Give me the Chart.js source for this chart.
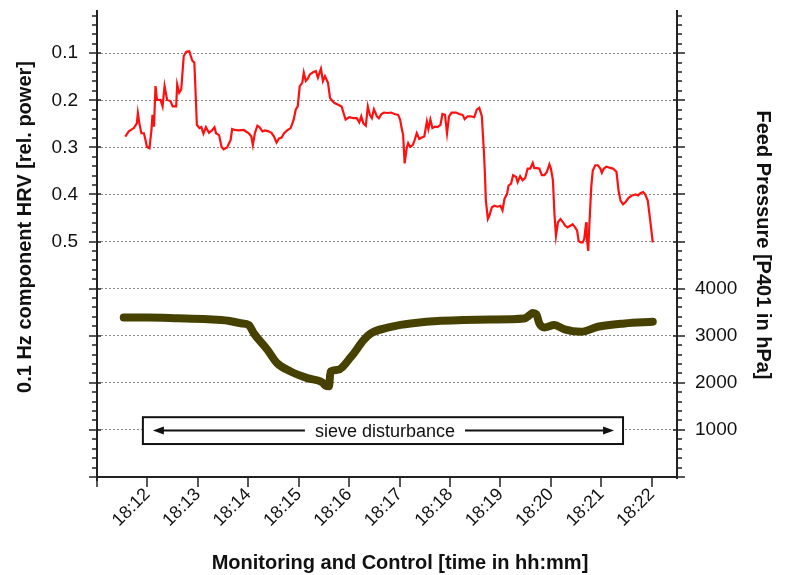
<!DOCTYPE html>
<html>
<head>
<meta charset="utf-8">
<title>HRV and feed pressure</title>
<script src="https://cdn.jsdelivr.net/npm/chart.js@4.4.1/dist/chart.umd.min.js"></script>
<style>
    html, body { margin: 0; padding: 0; background: #ffffff; }
</style>
</head>
<body>
<canvas id="myChart" width="785" height="575"></canvas>
<script>
// 0.1 Hz HRV component (rel. power), time in minutes after 18:00
const hrvTime = [
    11.56, 11.63, 11.73, 11.79, 11.81, 11.84, 11.88, 11.93, 11.96, 11.99,
    12.04, 12.08, 12.10, 12.13, 12.16, 12.19, 12.26, 12.30, 12.34, 12.39,
    12.46, 12.50, 12.57, 12.59, 12.63, 12.67, 12.72, 12.77, 12.83, 12.89,
    12.93, 12.95, 12.98, 13.03, 13.07, 13.11, 13.16, 13.22, 13.28, 13.33,
    13.36, 13.42, 13.47, 13.51, 13.58, 13.65, 13.68, 13.73, 13.81, 13.91,
    14.01, 14.06, 14.09, 14.13, 14.18, 14.22, 14.28, 14.33, 14.40, 14.46,
    14.51, 14.56, 14.61, 14.66, 14.71, 14.77, 14.84, 14.90, 14.94, 14.98,
    15.02, 15.07, 15.10, 15.14, 15.18, 15.22, 15.29, 15.34, 15.38, 15.44,
    15.48, 15.52, 15.58, 15.62, 15.67, 15.71, 15.77, 15.85, 15.90, 15.93,
    16.00, 16.08, 16.15, 16.20, 16.24, 16.28, 16.33, 16.37, 16.41, 16.45,
    16.49, 16.55, 16.59, 16.64, 16.69, 16.76, 16.83, 16.90, 16.97, 17.01,
    17.04, 17.07, 17.10, 17.14, 17.17, 17.21, 17.26, 17.30, 17.34, 17.39,
    17.44, 17.49, 17.54, 17.57, 17.61, 17.65, 17.70, 17.75, 17.81, 17.85,
    17.90, 17.94, 17.98, 18.03, 18.12, 18.18, 18.25, 18.29, 18.35, 18.41,
    18.48, 18.53, 18.58, 18.63, 18.67, 18.69, 18.71, 18.75, 18.78, 18.83,
    18.88, 18.94, 19.00, 19.04, 19.08, 19.13, 19.16, 19.21, 19.25, 19.31,
    19.34, 19.39, 19.44, 19.49, 19.54, 19.59, 19.64, 19.67, 19.72, 19.77,
    19.82, 19.87, 19.92, 19.97, 20.00, 20.04, 20.07, 20.10, 20.14, 20.19,
    20.24, 20.28, 20.33, 20.39, 20.43, 20.48, 20.52, 20.55, 20.59, 20.63,
    20.66, 20.70, 20.71, 20.74, 20.76, 20.80, 20.83, 20.88, 20.93, 20.98,
    21.01, 21.05, 21.10, 21.16, 21.23, 21.30, 21.34, 21.38, 21.43, 21.48,
    21.54, 21.61, 21.68, 21.73, 21.78, 21.83, 21.87, 21.92, 21.97, 22.02
];
const hrvPower = [
    0.277, 0.266, 0.259, 0.249, 0.227, 0.249, 0.270, 0.270, 0.284, 0.299,
    0.302, 0.263, 0.231, 0.256, 0.170, 0.199, 0.199, 0.213, 0.170, 0.199,
    0.202, 0.213, 0.213, 0.166, 0.184, 0.177, 0.106, 0.097, 0.096, 0.116,
    0.120, 0.170, 0.252, 0.259, 0.257, 0.271, 0.257, 0.269, 0.264, 0.257,
    0.270, 0.274, 0.299, 0.304, 0.300, 0.284, 0.261, 0.263, 0.264, 0.263,
    0.270, 0.277, 0.295, 0.270, 0.254, 0.257, 0.266, 0.264, 0.266, 0.269,
    0.277, 0.290, 0.281, 0.279, 0.270, 0.264, 0.259, 0.241, 0.220, 0.213,
    0.170, 0.163, 0.141, 0.159, 0.154, 0.145, 0.140, 0.138, 0.152, 0.133,
    0.159, 0.149, 0.163, 0.195, 0.202, 0.206, 0.209, 0.213, 0.231, 0.241,
    0.236, 0.238, 0.238, 0.247, 0.234, 0.249, 0.254, 0.213, 0.231, 0.238,
    0.219, 0.234, 0.238, 0.229, 0.226, 0.227, 0.226, 0.229, 0.231, 0.241,
    0.259, 0.274, 0.334, 0.302, 0.291, 0.299, 0.295, 0.284, 0.270, 0.282,
    0.279, 0.277, 0.245, 0.261, 0.241, 0.259, 0.256, 0.257, 0.252, 0.229,
    0.231, 0.270, 0.234, 0.226, 0.226, 0.229, 0.231, 0.240, 0.234, 0.234,
    0.236, 0.220, 0.216, 0.234, 0.306, 0.352, 0.413, 0.452, 0.445, 0.427,
    0.424, 0.426, 0.424, 0.434, 0.409, 0.399, 0.381, 0.377, 0.359, 0.363,
    0.374, 0.361, 0.370, 0.365, 0.345, 0.345, 0.333, 0.344, 0.344, 0.345,
    0.359, 0.359, 0.352, 0.336, 0.345, 0.370, 0.441, 0.488, 0.459, 0.452,
    0.459, 0.466, 0.470, 0.466, 0.463, 0.470, 0.477, 0.499, 0.502, 0.502,
    0.495, 0.459, 0.491, 0.520, 0.470, 0.384, 0.349, 0.338, 0.338, 0.345,
    0.354, 0.345, 0.341, 0.343, 0.345, 0.352, 0.391, 0.413, 0.421, 0.416,
    0.407, 0.402, 0.400, 0.402, 0.397, 0.395, 0.400, 0.413, 0.456, 0.502
];

// Feed pressure P401 in hPa
const pressTime = [
    11.53, 12.00, 12.60, 13.20, 13.60, 13.85, 14.01, 14.11, 14.38, 14.57,
    14.84, 15.17, 15.47, 15.53, 15.60, 15.63, 15.77, 16.04, 16.29, 16.43,
    16.76, 17.02, 17.22, 17.82, 18.81, 19.47, 19.58, 19.64, 19.71, 19.77,
    19.87, 20.07, 20.27, 20.60, 20.93, 21.46, 22.02
];
const feedPressure = [
    3385, 3385, 3370, 3350, 3320, 3265, 3226, 3050, 2700, 2418,
    2240, 2100, 2008, 1940, 1925, 2240, 2275, 2555, 2910, 3050,
    3170, 3230, 3260, 3316, 3346, 3367, 3440, 3485, 3458, 3262,
    3177, 3226, 3135, 3085, 3190, 3260, 3295
];

// Axis ticks
const minuteTicks = [11, 12, 13, 14, 15, 16, 17, 18, 19, 20, 21, 22];
const hrvTicks = [0.1, 0.2, 0.3, 0.4, 0.5, 0.6];
const pressureTicks = [1000, 2000, 3000, 4000];

// Marked period
const sieveLabel = "sieve disturbance";
const sieveStart = 11.91;
const sieveEnd = 21.43;

const FONT = "'Liberation Sans', Arial, sans-serif";

function toPoints(xs, ys) {
    return xs.map((x, i) => ({ x: x, y: ys[i] }));
}

// Chart.js reserves room for half a label at the axis ends; the frame is fixed here
function noEdgePadding(scale) {
    scale.paddingTop = 0;
    scale.paddingBottom = 0;
    scale.paddingLeft = 0;
    scale.paddingRight = 0;
}

function drawArrow(ctx, x1, x2, y) {
    // line from x1 to x2, head at x2
    const dir = x2 > x1 ? 1 : -1;
    ctx.beginPath();
    ctx.moveTo(x1, y);
    ctx.lineTo(x2 - dir * 8, y);
    ctx.stroke();
    ctx.beginPath();
    ctx.moveTo(x2, y);
    ctx.lineTo(x2 - dir * 11, y - 4);
    ctx.lineTo(x2 - dir * 11, y + 4);
    ctx.closePath();
    ctx.fill();
}

const axisMarks = {
    id: "axisMarks",
    afterDatasetsDraw(chart) {
        // the sieve disturbance box sits over the grid
        const ctx = chart.ctx;
        const xs = chart.scales.x;
        const yr = chart.scales.yPress;
        const left = xs.getPixelForValue(sieveStart);
        const right = xs.getPixelForValue(sieveEnd);
        const top = yr.getPixelForValue(1270);
        const bottom = yr.getPixelForValue(700);
        const mid = (top + bottom) / 2;
        ctx.save();
        ctx.fillStyle = "#ffffff";
        ctx.fillRect(left, top, right - left, bottom - top);
        ctx.strokeStyle = "#111";
        ctx.lineWidth = 2;
        ctx.strokeRect(left, top, right - left, bottom - top);
        ctx.font = "18px " + FONT;
        ctx.fillStyle = "#111";
        ctx.textAlign = "center";
        ctx.textBaseline = "middle";
        const cx = (left + right) / 2 + 2;
        ctx.fillText(sieveLabel, cx, mid + 1);
        const tw = ctx.measureText(sieveLabel).width;
        ctx.lineWidth = 2;
        drawArrow(ctx, cx - tw / 2 - 10, left + 10, mid);
        drawArrow(ctx, cx + tw / 2 + 10, right - 9, mid);
        ctx.restore();
    },
    afterDraw(chart) {
        const ctx = chart.ctx;
        const area = chart.chartArea;
        const xs = chart.scales.x;
        const yl = chart.scales.yHrv;
        const yr = chart.scales.yPress;
        ctx.save();
        ctx.strokeStyle = "#222";
        ctx.lineWidth = 2;
        ctx.beginPath();
        ctx.moveTo(area.left, area.top - 2);
        ctx.lineTo(area.left, area.bottom + 4);
        ctx.moveTo(area.right, area.top - 2);
        ctx.lineTo(area.right, area.bottom + 2);
        ctx.moveTo(area.left, area.bottom);
        ctx.lineTo(area.right, area.bottom);
        ctx.stroke();

        ctx.lineWidth = 1.5;
        ctx.beginPath();
        // left axis: major every 0.1, minor every 0.02
        for (let i = 1; i <= 50; i++) {
            const v = i / 50;
            if (v < yl.min) continue;
            const py = Math.round(yl.getPixelForValue(v));
            if (i % 5 === 0) {
                ctx.moveTo(area.left - 8, py);
                ctx.lineTo(area.left + 4, py);
            } else {
                ctx.moveTo(area.left - 5, py);
                ctx.lineTo(area.left, py);
            }
        }
        // right axis: major every 1000, minor every 200
        for (let p = 0; p <= yr.max; p += 200) {
            const py = Math.round(yr.getPixelForValue(p));
            if (p % 1000 === 0) {
                ctx.moveTo(area.right - 4, py);
                ctx.lineTo(area.right + 8, py);
            } else {
                ctx.moveTo(area.right, py);
                ctx.lineTo(area.right + 5, py);
            }
        }
        // time axis
        minuteTicks.forEach((m) => {
            const px = Math.round(xs.getPixelForValue(m));
            ctx.moveTo(px, area.bottom);
            ctx.lineTo(px, area.bottom + 10);
        });
        ctx.stroke();

        // axis titles
        ctx.fillStyle = "#111";
        ctx.font = "bold 20px " + FONT;
        ctx.textAlign = "center";
        ctx.textBaseline = "middle";
        ctx.fillText("Monitoring and Control [time in hh:mm]", 400, 563);
        ctx.save();
        ctx.translate(25, 227);
        ctx.rotate(-Math.PI / 2);
        ctx.fillText("0.1 Hz component HRV [rel. power]", 0, 0);
        ctx.restore();
        ctx.save();
        ctx.translate(763, 245);
        ctx.rotate(Math.PI / 2);
        ctx.fillText("Feed Pressure [P401 in hPa]", 0, 0);
        ctx.restore();
        ctx.restore();
    }
};

window.onload = function() {
    const ctx = document.getElementById("myChart");
    Chart.defaults.font.family = FONT;
    Chart.defaults.color = "#111";

    new Chart(ctx, {
        type: "line",
        data: {
            datasets: [
                {
                    label: "HRV",
                    data: toPoints(hrvTime, hrvPower),
                    yAxisID: "yHrv",
                    borderColor: "#ff1010",
                    borderWidth: 2.2,
                    pointRadius: 0,
                    tension: 0
                },
                {
                    label: "Feed pressure",
                    data: toPoints(pressTime, feedPressure),
                    yAxisID: "yPress",
                    borderColor: "#474100",
                    borderWidth: 8,
                    borderCapStyle: "round",
                    borderJoinStyle: "round",
                    cubicInterpolationMode: "monotone",
                    pointRadius: 0
                }
            ]
        },
        options: {
            responsive: false,
            animation: false,
            layout: { padding: { top: 12, left: 0, right: 0, bottom: 0 } },
            plugins: {
                legend: { display: false },
                tooltip: { enabled: false }
            },
            scales: {
                x: {
                    type: "linear",
                    min: 11,
                    max: 22.5,
                    afterBuildTicks: (scale) => {
                        scale.ticks = minuteTicks.map((m) => ({ value: m }));
                    },
                    afterFit: (scale) => { scale.height = 98; noEdgePadding(scale); },
                    ticks: {
                        autoSkip: false,
                        minRotation: 45,
                        maxRotation: 45,
                        padding: 7,
                        font: { size: 18 },
                        callback: (v) => (v === 11 ? "" : "18:" + String(v).padStart(2, "0"))
                    },
                    grid: { drawOnChartArea: false, drawTicks: false },
                    border: { display: false }
                },
                yHrv: {
                    type: "linear",
                    position: "left",
                    reverse: true,
                    min: 0.0125,
                    max: 1.0,
                    afterBuildTicks: (scale) => {
                        scale.ticks = hrvTicks.map((v) => ({ value: v }));
                    },
                    afterFit: (scale) => { scale.width = 97; noEdgePadding(scale); },
                    ticks: {
                        padding: 19,
                        font: { size: 19 },
                        callback: (v) => (v <= 0.5 ? v.toFixed(1) : "")
                    },
                    grid: { color: "#8a8a8a", lineWidth: 1, drawTicks: false },
                    border: { display: false, dash: [2, 2] }
                },
                yPress: {
                    type: "linear",
                    position: "right",
                    min: 0,
                    max: 9875,
                    afterBuildTicks: (scale) => {
                        scale.ticks = pressureTicks.map((v) => ({ value: v }));
                    },
                    afterFit: (scale) => { scale.width = 108; noEdgePadding(scale); },
                    ticks: {
                        padding: 18,
                        font: { size: 19 },
                        callback: (v) => String(v)
                    },
                    grid: {
                        color: (c) => (c.tick && c.tick.value === 4000 ? "rgba(0,0,0,0)" : "#8a8a8a"),
                        lineWidth: 1,
                        drawTicks: false
                    },
                    border: { display: false, dash: [2, 2] }
                }
            }
        },
        plugins: [axisMarks]
    });
};
</script>
</body>
</html>
